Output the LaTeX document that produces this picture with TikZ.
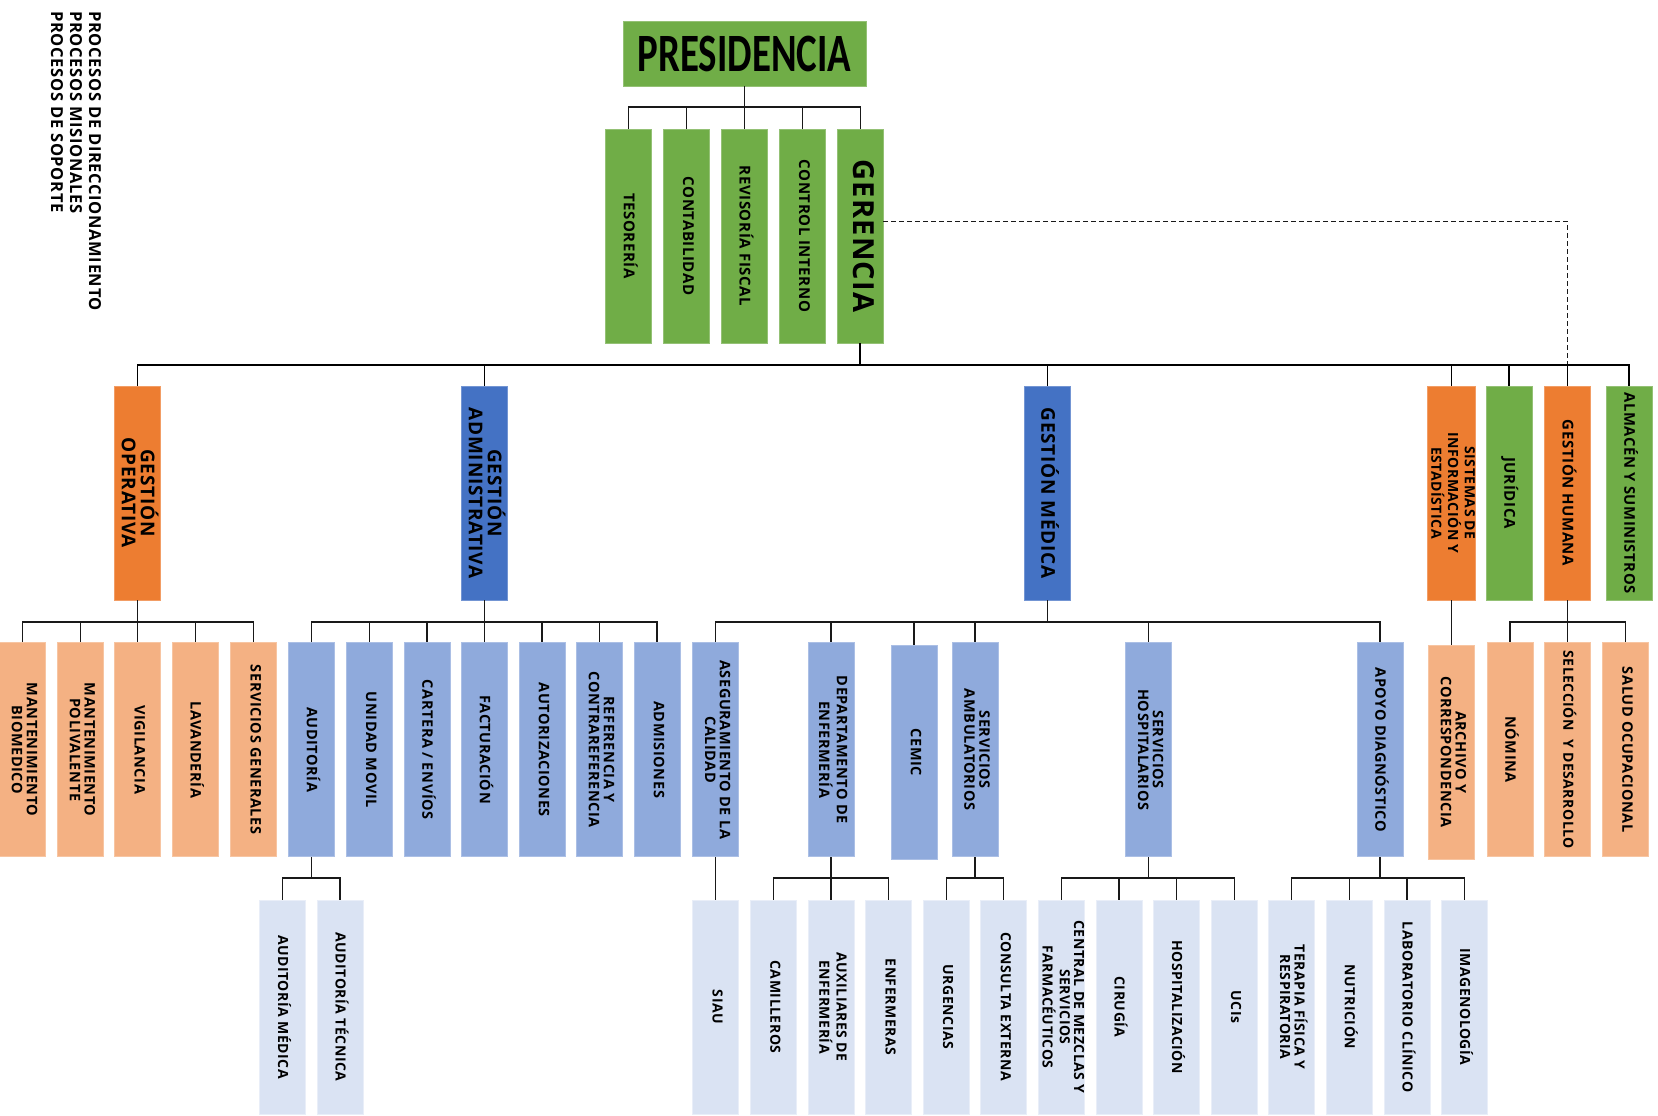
\documentclass[tikz,border=0pt]{standalone}
\usepackage{fontspec}
\usepackage{graphicx}
\setmainfont{Open Sans}
\newfontfamily\boxfont{Open Sans}[LetterSpace=4]
\newfontfamily\presfont{Carlito}
\definecolor{cgreen}{HTML}{70AD47}
\definecolor{corange}{HTML}{ED7D31}
\definecolor{cblue}{HTML}{4472C4}
\definecolor{clorange}{HTML}{F4B183}
\definecolor{clblue}{HTML}{8FAADC}
\definecolor{cvlblue}{HTML}{DAE3F3}
\newcommand{\vt}[3]{\rotatebox{-90}{\boxfont\bfseries\fontsize{#1}{#2}\selectfont\begin{tabular}{@{}c@{}}#3\end{tabular}}}
\tikzset{
  orgbox/.style={rectangle, inner sep=0pt, minimum width=46pt, minimum height=214pt, line width=0.7pt},
  gbox/.style={orgbox, fill=cgreen, draw=cgreen!75!white},
  obox/.style={orgbox, fill=corange, draw=corange!75!white},
  bbox/.style={orgbox, fill=cblue, draw=cblue!75!white},
  lobox/.style={orgbox, fill=clorange, draw=clorange!75!white},
  lbbox/.style={orgbox, fill=clblue, draw=clblue!75!white},
  vlbox/.style={orgbox, fill=cvlblue, draw=cvlblue!60!white},
  link/.style={draw=black!90, line width=1.1pt},
  mainlink/.style={draw=black, line width=1.5pt},
  dashlink/.style={draw=black!90, line width=1pt, dash pattern=on 5pt off 3pt},
}
\begin{document}
\begin{tikzpicture}[x=1pt,y=-1pt]
\path[use as bounding box] (0,0) rectangle (1658,1116);

% legend
\node[anchor=north, inner sep=0pt] (legend) at (74,11) {\rotatebox{-90}{\boxfont\bfseries\fontsize{16.5}{19}\selectfont\begin{tabular}{@{}l@{}}PROCESOS DE DIRECCIONAMIENTO\\PROCESOS MISIONALES\\PROCESOS DE SOPORTE\end{tabular}}};

% bus levels
\coordinate (busA) at (0,107);
\coordinate (busB) at (0,365);
\coordinate (busC) at (0,622);
\coordinate (busD) at (0,878);

% level 1
\node[gbox, minimum width=243pt, minimum height=65pt] (pres) at (744.5,53.5) {\presfont\bfseries\fontsize{54}{54}\selectfont\scalebox{0.72}[1]{PRESIDENCIA}};

% level 2
\node[gbox] (tes) at (628.5,236) {\vt{15}{15}{TESORERÍA}};
\node[gbox] (con) at (686.4,236) {\vt{15}{15}{CONTABILIDAD}};
\node[gbox] (rev) at (744.3,236) {\vt{15}{15}{REVISORÍA FISCAL}};
\node[gbox] (ctl) at (802.2,236) {\vt{15}{15}{CONTROL INTERNO}};
\node[gbox] (ger) at (860.1,236) {\vt{29}{29}{GERENCIA}};

% level 3
\node[obox] (go) at (137.5,493) {\vt{19}{18}{GESTIÓN\\OPERATIVA}};
\node[bbox] (ga) at (484.5,493) {\vt{19}{18}{GESTIÓN\\ADMINISTRATIVA}};
\node[bbox] (gm) at (1047.5,493) {\vt{19}{18}{GESTIÓN MÉDICA}};
\node[obox] (sis) at (1451.3,493) {\vt{14}{12.5}{SISTEMAS DE\\INFORMACIÓN Y\\ESTADÍSTICA}};
\node[gbox] (jur) at (1509,493) {\vt{15}{15}{JURÍDICA}};
\node[obox] (gh) at (1567.4,493) {\vt{15}{15}{GESTIÓN HUMANA}};
\node[gbox] (alm) at (1629,493) {\vt{14.8}{14.8}{ALMACÉN Y SUMINISTROS}};

% level 4
\node[lobox] (mb) at (22.5,749.7) {\vt{14.5}{14.5}{MANTENIMIENTO\\BIOMEDICO}};
\node[lobox] (mp) at (80.3,749.7) {\vt{14.5}{14.5}{MANTENIMIENTO\\POLIVALENTE}};
\node[lobox] (vig) at (137.7,749.7) {\vt{14.5}{14.5}{VIGILANCIA}};
\node[lobox] (lav) at (195.3,749.7) {\vt{14.5}{14.5}{LAVANDERÍA}};
\node[lobox] (sg) at (253.6,749.7) {\vt{14.5}{14.5}{SERVICIOS GENERALES}};
\node[lbbox] (aud) at (311.4,749.7) {\vt{14.5}{14.5}{AUDITORÍA}};
\node[lbbox] (um) at (369.2,749.7) {\vt{14.5}{14.5}{UNIDAD MOVIL}};
\node[lbbox] (car) at (427,749.7) {\vt{14.5}{14.5}{CARTERA / ENVÍOS}};
\node[lbbox] (fac) at (484.5,749.7) {\vt{14.5}{14.5}{FACTURACIÓN}};
\node[lbbox] (aut) at (542,749.7) {\vt{14.5}{14.5}{AUTORIZACIONES}};
\node[lbbox] (ref) at (599.5,749.7) {\vt{14.5}{14.5}{REFERENCIA Y\\CONTRAREFERENCIA}};
\node[lbbox] (adm) at (657,749.7) {\vt{14.5}{14.5}{ADMISIONES}};
\node[lbbox] (ase) at (715.5,749.7) {\vt{14.5}{14.5}{ASEGURAMIENTO DE LA\\CALIDAD}};
\node[lbbox] (dep) at (831,749.7) {\vt{14.5}{14.5}{DEPARTAMENTO DE\\ENFERMERÍA}};
\node[lbbox] (cem) at (914,752.2) {\vt{14.5}{14.5}{CEMIC}};
\node[lbbox] (sa) at (975,749.7) {\vt{14.5}{14.5}{SERVICIOS\\AMBULATORIOS}};
\node[lbbox] (sh) at (1148.6,749.7) {\vt{14.5}{14.5}{SERVICIOS\\HOSPITALARIOS}};
\node[lbbox] (ad) at (1380,749.7) {\vt{14.5}{14.5}{APOYO DIAGNÓSTICO}};
\node[lobox] (arch) at (1451.3,752.2) {\vt{14.5}{14.5}{ARCHIVO Y\\CORRESPONDENCIA}};
\node[lobox] (nom) at (1510,749.7) {\vt{14.5}{14.5}{NÓMINA}};
\node[lobox] (sel) at (1567.7,749.7) {\vt{14}{14}{SELECCIÓN~ Y DESARROLLO}};
\node[lobox] (sal) at (1625.5,749.7) {\vt{14.5}{14.5}{SALUD OCUPACIONAL}};

% level 5
\node[vlbox] (am) at (282.5,1007) {\vt{14}{14}{AUDITORÍA MÉDICA}};
\node[vlbox] (at) at (340,1007) {\vt{14}{14}{AUDITORÍA TÉCNICA}};
\node[vlbox] (siau) at (715.5,1007) {\vt{14}{14}{SIAU}};
\node[vlbox] (cam) at (773.4,1007) {\vt{14}{14}{CAMILLEROS}};
\node[vlbox] (aux) at (831,1007) {\vt{14}{14}{AUXILIARES DE\\ENFERMERÍA}};
\node[vlbox] (enf) at (888.6,1007) {\vt{14}{14}{ENFERMERAS}};
\node[vlbox] (urg) at (946.2,1007) {\vt{14}{14}{URGENCIAS}};
\node[vlbox] (ce) at (1003.8,1007) {\vt{14}{14}{CONSULTA EXTERNA}};
\node[vlbox] (cen) at (1061.4,1007) {\vt{14}{14}{CENTRAL DE MEZCLAS Y\\SERVICIOS\\FARMACÉUTICOS}};
\node[vlbox] (cir) at (1119,1007) {\vt{14}{14}{CIRUGÍA}};
\node[vlbox] (hos) at (1176.6,1007) {\vt{14}{14}{HOSPITALIZACIÓN}};
\node[vlbox] (uci) at (1234.2,1007) {\vt{14}{14}{UCIs}};
\node[vlbox] (ter) at (1291.8,1007) {\vt{14}{14}{TERAPIA FÍSICA Y\\RESPIRATORIA}};
\node[vlbox] (nut) at (1349.4,1007) {\vt{14}{14}{NUTRICIÓN}};
\node[vlbox] (lab) at (1407,1007) {\vt{14}{14}{LABORATORIO CLÍNICO}};
\node[vlbox] (ima) at (1464.6,1007) {\vt{14}{14}{IMAGENOLOGÍA}};

% connectors
\foreach \c in {tes,con,rev,ctl,ger}
  \draw[link] (pres.south) -- (pres.south |- busA) -| (\c.north);
\draw[dashlink] ([yshift=15pt]ger.east) -| (gh.north |- busB);
\foreach \c in {go,ga,gm,sis,jur,gh,alm}
  \draw[mainlink] (ger.south) -- (ger.south |- busB) -| (\c.north);
\foreach \c in {mb,mp,vig,lav,sg}
  \draw[link] (go.south) -- (go.south |- busC) -| (\c.north);
\foreach \c in {aud,um,car,fac,aut,ref,adm}
  \draw[link] (ga.south) -- (ga.south |- busC) -| (\c.north);
\foreach \c in {ase,dep,cem,sa,sh,ad}
  \draw[link] (gm.south) -- (gm.south |- busC) -| (\c.north);
\draw[link] (sis.south) -- (arch.north);
\foreach \c in {nom,sel,sal}
  \draw[link] (gh.south) -- (gh.south |- busC) -| (\c.north);
\foreach \c in {am,at}
  \draw[link] (aud.south) -- (aud.south |- busD) -| (\c.north);
\draw[link] (ase.south) -- (siau.north);
\foreach \c in {cam,aux,enf}
  \draw[link] (dep.south) -- (dep.south |- busD) -| (\c.north);
\foreach \c in {urg,ce}
  \draw[link] (sa.south) -- (sa.south |- busD) -| (\c.north);
\foreach \c in {cen,cir,hos,uci}
  \draw[link] (sh.south) -- (sh.south |- busD) -| (\c.north);
\foreach \c in {ter,nut,lab,ima}
  \draw[link] (ad.south) -- (ad.south |- busD) -| (\c.north);
\end{tikzpicture}
\end{document}
